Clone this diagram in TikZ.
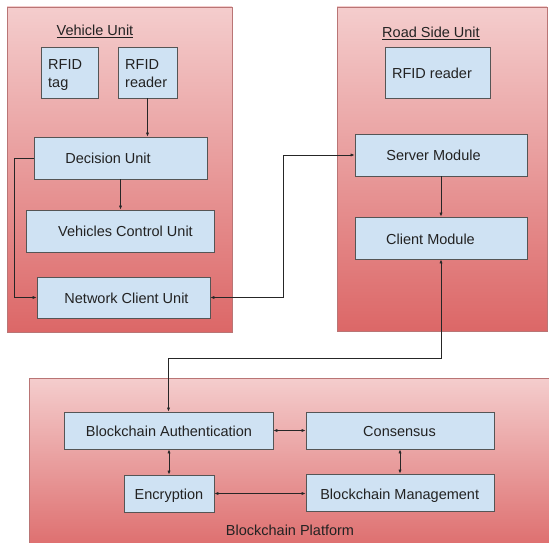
\documentclass[tikz,border=0pt]{standalone}
\usepackage{fontspec}
\setmainfont{Liberation Sans}
\usetikzlibrary{arrows.meta,fit}
\definecolor{boxfill}{HTML}{CFE2F3}
\definecolor{boxline}{HTML}{555555}
\definecolor{paneltop}{HTML}{F4CDCD}
\definecolor{panelbot}{HTML}{DC6767}
\definecolor{panelline}{HTML}{B97575}
\definecolor{wire}{HTML}{262626}
\definecolor{ink}{HTML}{222222}

\begin{document}
\begin{tikzpicture}[x=1pt,y=-1pt,
  panel/.style={draw=panelline, line width=0.7pt, top color=paneltop, bottom color=panelbot},
  box/.style={draw=boxline, fill=boxfill, line width=0.8pt, inner sep=0pt},
  txt/.style={inner sep=0pt, text=ink, font=\fontsize{14.5}{18}\selectfont},
  arr/.style={draw=wire, line width=0.7pt, -{Latex[length=4pt,width=3.2pt]}},
  darr/.style={draw=wire, line width=0.7pt, {Latex[length=4pt,width=3.2pt]}-{Latex[length=4pt,width=3.2pt]}}]

\useasboundingbox (0,0) rectangle (549,543);

% containers
\begin{scope}
\clip (0,0) rectangle (549,543);
\draw[panel] (7,7) rectangle (232,332);
\draw[panel] (337,7) rectangle (547,331);
\draw[panel] (29,378) rectangle (560,560);
\end{scope}

% vehicle unit
\node[txt, anchor=base] (vtitle) at (95,36) {\underline{Vehicle Unit}};
\node[box, fit={(41,47) (98,98)}] (tag) {};
\node[box, fit={(118,47) (177,98)}] (vreader) {};
\node[box, fit={(34,137) (207,179)}] (dec) {};
\node[box, fit={(26,210) (214,252)}] (vcu) {};
\node[box, fit={(37,277) (210,318)}] (ncu) {};
\node[txt, anchor=base west] (tag-a) at (48,70) {RFID};
\node[txt, anchor=base west] (tag-b) at (48,88) {tag};
\node[txt, anchor=base west] (vreader-a) at (125,70) {RFID};
\node[txt, anchor=base west] (vreader-b) at (125,88) {reader};
\node[txt, anchor=base] (dec-t) at (108,163) {Decision Unit};
\node[txt, anchor=base] (vcu-t) at (125.5,236) {Vehicles Control Unit};
\node[txt, anchor=base] (ncu-t) at (126.5,303) {Network Client Unit};

% road side unit
\node[txt, anchor=base] (rtitle) at (431,38) {\underline{Road Side Unit}};
\node[box, fit={(385,47) (490,98)}] (rreader) {};
\node[box, fit={(355,134) (527,176)}] (srv) {};
\node[box, fit={(355,217) (527,259)}] (cli) {};
\node[txt, anchor=base] (rreader-t) at (432,79) {RFID reader};
\node[txt, anchor=base] (srv-t) at (433.5,160) {Server Module};
\node[txt, anchor=base] (cli-t) at (430.5,244) {Client Module};

% blockchain platform
\node[box, fit={(64,412) (273,449)}] (auth) {};
\node[box, fit={(306,412) (494,449)}] (cons) {};
\node[box, fit={(124,475) (214,512)}] (enc) {};
\node[box, fit={(306,474) (494,511)}] (mgmt) {};
\node[txt, anchor=base] (auth-t) at (169,436) {Blockchain Authentication};
\node[txt, anchor=base] (cons-t) at (399.5,436) {Consensus};
\node[txt, anchor=base] (enc-t) at (169,499) {Encryption};
\node[txt, anchor=base] (mgmt-t) at (399.7,499) {Blockchain Management};
\node[txt, anchor=base] (btitle) at (290,535) {Blockchain Platform};

% connectors
\draw[arr] (vreader.south) -- (dec.north -| vreader.south);
\draw[arr] (dec.south) -- (vcu.north -| dec.south);
\draw[arr] (dec.west) -- ++(-19,0) |- (ncu.west);
\draw[darr] (ncu.east) -- (283,297.5) |- (srv.west);
\draw[arr] (srv.south) -- (cli.north);
\draw[darr] (cli.south) -- ++(0,99) -| (auth.north);
\draw[darr] (auth.east) -- (cons.west);
\draw[darr] (auth.south -| enc.north) -- (enc.north);
\draw[darr] (cons.south) -- (mgmt.north);
\draw[darr] (enc.east) -- (enc.east -| mgmt.west);
\end{tikzpicture}
\end{document}
